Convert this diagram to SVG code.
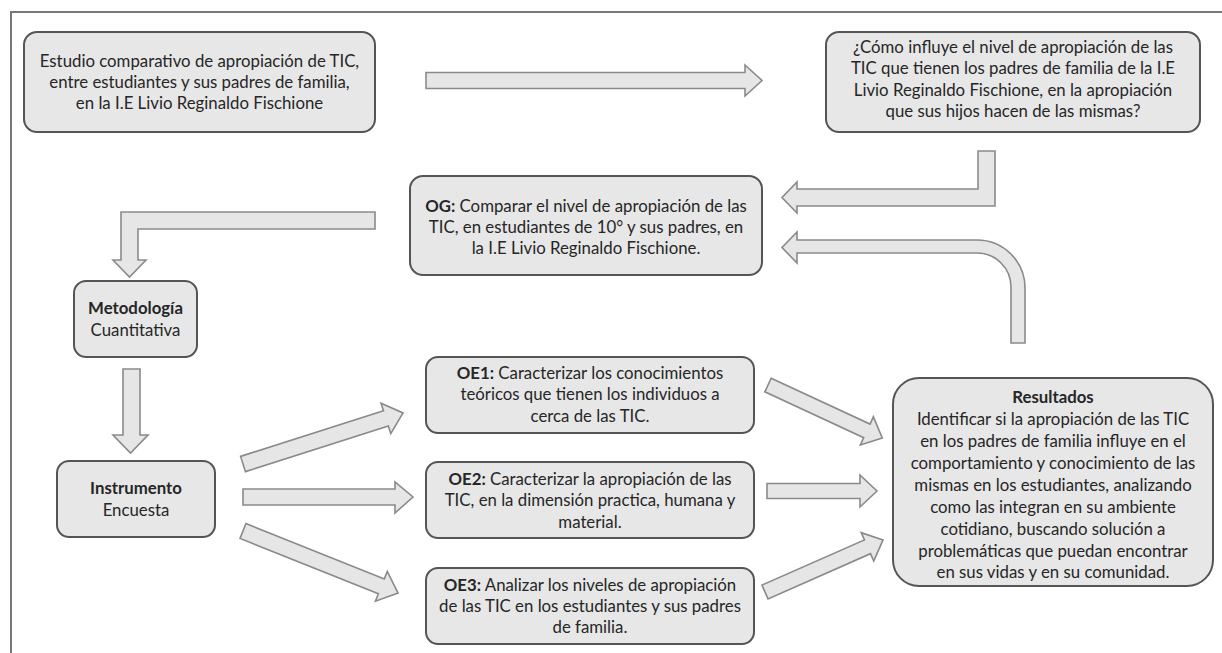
<svg xmlns="http://www.w3.org/2000/svg" width="1222" height="653" viewBox="0 0 1222 653">
<style>
.box{fill:#e7e7e7;stroke:#555;stroke-width:2}
.arr{fill:#e6e6e6;stroke:#8a8a8a;stroke-width:1.6;stroke-linejoin:miter}
text{font-family:Lato,"Open Sans","Liberation Sans",sans-serif;font-size:16.8px;fill:#262626;text-anchor:middle}
.b{font-weight:bold}
.frame{fill:none;stroke:#777;stroke-width:2}
</style>
<rect width="1222" height="653" fill="#fff"/>
<path class="frame" d="M11,653 V12 H1222"/>

<g id="connectors">
<polygon class="arr" points="426,72.5 745,72.5 745,65 762,80.5 745,96 745,88.5 426,88.5"/>
<path class="arr" d="M978,151 H995 V206 H797 V213 L782,197.5 L797,182 V189 H978 Z"/>
<path class="arr" d="M1011,343 H1025 V288 A48,48 0 0 0 977,240 H797 V232 L782,247.5 L797,263 V253 H977 A34,34 0 0 1 1011,287 Z"/>
<path class="arr" d="M375,212 V229 H138 V260 H146 L129.5,277 L113,260 H121 V212 Z"/>
<path class="arr" d="M123,369 H140 V435 H148 L130.5,453 L113,435 H123 Z"/>
<polygon class="arr" transform="translate(243,464) rotate(-17.7)" points="0,-8 150,-8 150,-16 168,0 150,16 150,8 0,8"/>
<polygon class="arr" points="243,489 395,489 395,482 413,497 395,513 395,505 243,505"/>
<polygon class="arr" transform="translate(243,531) rotate(21.8)" points="0,-8 149,-8 149,-16 167,0 149,16 149,8 0,8"/>
<polygon class="arr" transform="translate(768,385) rotate(24.9)" points="0,-7.5 109,-7.5 109,-15.5 126,0 109,15.5 109,7.5 0,7.5"/>
<polygon class="arr" points="767,483.5 860,483.5 860,475 877,491 860,507 860,498.5 767,498.5"/>
<polygon class="arr" transform="translate(765,592) rotate(-23.8)" points="0,-7.5 112,-7.5 112,-15.5 129,0 112,15.5 112,7.5 0,7.5"/>
</g>

<g id="n-estudio">
<rect class="box" x="24" y="32" width="351" height="100" rx="13"/>
<text x="199.5" y="67">Estudio comparativo de apropiación de TIC,</text>
<text x="199.5" y="88">entre estudiantes y sus padres de familia,</text>
<text x="199.5" y="109">en la I.E Livio Reginaldo Fischione</text>
</g>

<g id="n-pregunta">
<rect class="box" x="826" y="32" width="374" height="100" rx="13"/>
<text x="1013" y="53">¿Cómo influye el nivel de apropiación de las</text>
<text x="1013" y="74">TIC que tienen los padres de familia de la I.E</text>
<text x="1013" y="96">Livio Reginaldo Fischione, en la apropiación</text>
<text x="1013" y="117">que sus hijos hacen de las mismas?</text>
</g>

<g id="n-og">
<rect class="box" x="410" y="176" width="352" height="99" rx="13"/>
<text x="586" y="212"><tspan class="b">OG:</tspan> Comparar el nivel de apropiación de las</text>
<text x="586" y="233">TIC, en estudiantes de 10° y sus padres, en</text>
<text x="586" y="254">la I.E Livio Reginaldo Fischione.</text>
</g>

<g id="n-metodologia">
<rect class="box" x="74" y="281" width="123" height="76" rx="12"/>
<text class="b" x="135.5" y="314">Metodología</text>
<text x="135.5" y="336">Cuantitativa</text>
</g>

<g id="n-instrumento">
<rect class="box" x="57" y="461" width="158" height="76" rx="12"/>
<text class="b" x="136" y="494">Instrumento</text>
<text x="136" y="516">Encuesta</text>
</g>

<g id="n-oe1">
<rect class="box" x="426" y="357" width="328" height="76" rx="12"/>
<text x="590" y="379"><tspan class="b">OE1:</tspan> Caracterizar los conocimientos</text>
<text x="590" y="400">teóricos que tienen los individuos a</text>
<text x="590" y="422">cerca de las TIC.</text>
</g>

<g id="n-oe2">
<rect class="box" x="426" y="462" width="328" height="76" rx="12"/>
<text x="590" y="485"><tspan class="b">OE2:</tspan> Caracterizar la apropiación de las</text>
<text x="590" y="506">TIC, en la dimensión practica, humana y</text>
<text x="590" y="528">material.</text>
</g>

<g id="n-oe3">
<rect class="box" x="426" y="568" width="328" height="76" rx="12"/>
<text x="590" y="591"><tspan class="b">OE3:</tspan> Analizar los niveles de apropiación</text>
<text x="590" y="612">de las TIC en los estudiantes y sus padres</text>
<text x="590" y="633">de familia.</text>
</g>

<g id="n-resultados">
<rect class="box" x="893" y="378" width="320" height="208" rx="26"/>
<text class="b" x="1053" y="403">Resultados</text>
<text x="1053" y="425">Identificar si la apropiación de las TIC</text>
<text x="1053" y="447">en los padres de familia influye en el</text>
<text x="1053" y="469">comportamiento y conocimiento de las</text>
<text x="1053" y="491">mismas en los estudiantes, analizando</text>
<text x="1053" y="513">como las integran en su ambiente</text>
<text x="1053" y="535">cotidiano, buscando solución a</text>
<text x="1053" y="557">problemáticas que puedan encontrar</text>
<text x="1053" y="578">en sus vidas y en su comunidad.</text>
</g>
</svg>
